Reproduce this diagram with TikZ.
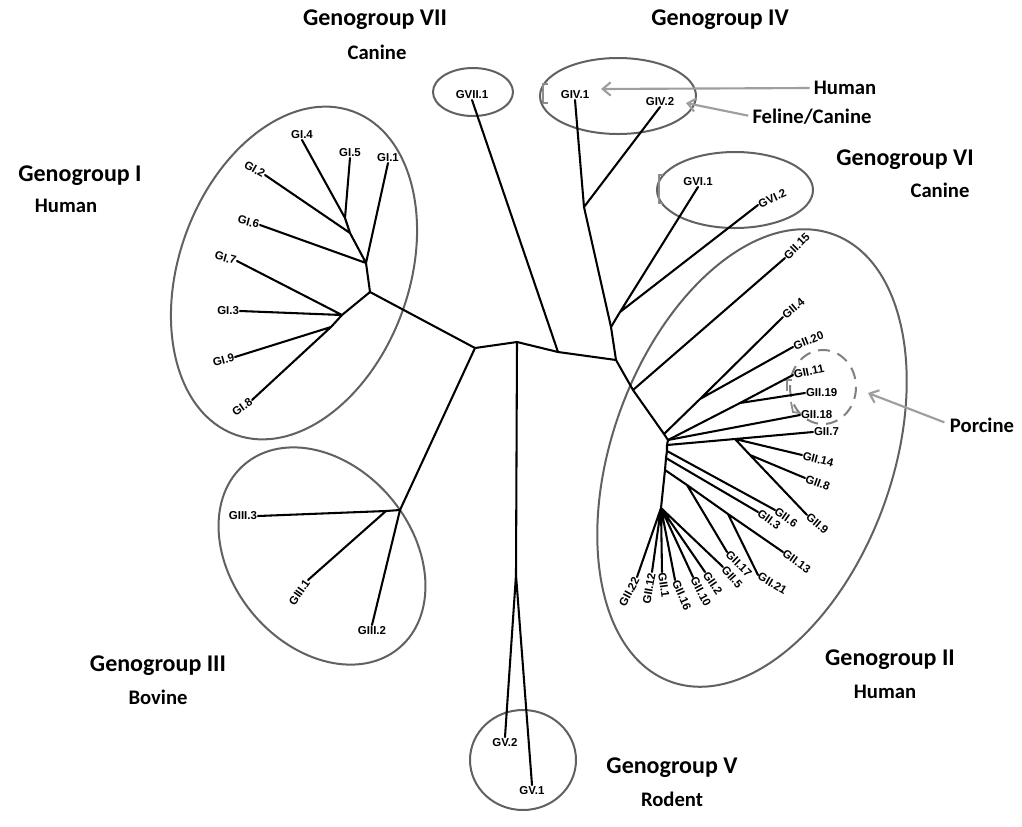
\documentclass[tikz,border=0pt]{standalone}
\usepackage{fontspec}
\setmainfont{Carlito}
\newfontfamily\leaffont{Liberation Sans}
\usetikzlibrary{arrows.meta}
\tikzset{
 branch/.style={line width=1.55pt, line cap=round, line join=round},
 clade/.style={line width=1.5pt, draw=black!62},
 leaf/.style={font=\leaffont\bfseries\fontsize{8.6}{9}\selectfont, inner sep=0.6pt},
 grp/.style={font=\bfseries\fontsize{18}{20}\selectfont, inner sep=0pt},
 host/.style={font=\bfseries\fontsize{15.5}{18}\selectfont, inner sep=0pt},
 pointer/.style={line width=1.6pt, draw=black!38, -{Straight Barb[length=6pt,width=10pt]}},
 ghost/.style={line width=1.3pt, draw=black!45},
 porcring/.style={line width=1.5pt, draw=black!50, dash pattern=on 9pt off 6pt},
}
\begin{document}
\begin{tikzpicture}[x=0.75pt,y=-0.75pt]
\useasboundingbox (0,0) rectangle (1022,826);
\fill[white] (0,0) rectangle (1022,826);

% ---------- clade ellipses ----------
\draw[clade, rotate around={-20:(294,273)}] (294,273) ellipse (115 and 172);
\draw[clade, rotate around={-20:(752,458)}] (752,458) ellipse (140 and 238);
\draw[clade, rotate around={-50:(322,556)}] (322,556) ellipse (120 and 90);
\draw[clade] (473,92) ellipse (40 and 24);
\draw[clade] (618,96) ellipse (78 and 38);
\draw[clade] (735,190) ellipse (78 and 38);
\draw[clade] (523,760) ellipse (53 and 50);
\draw[porcring] (823,387) ellipse (33 and 37);

% leftover grey brackets
\draw[ghost] (548,84) -- (543,84) -- (543,103) -- (548,103);
\draw[ghost] (663,175) -- (659,175) -- (659,203) -- (663,203);
\draw[ghost] (783,380) -- (792,380) (787,380) -- (787,391);
\draw[ghost] (791,402) -- (793,412) -- (800,413);

% ---------- internal nodes ----------
\coordinate (GIa) at (370,292);
\coordinate (B) at (475,348);
\coordinate (C) at (517,342);
\coordinate (D) at (558,352);
\coordinate (E) at (616,360);
\coordinate (F) at (611,327);
\coordinate (GIVn) at (584,207);
\coordinate (G6) at (620,312);
\coordinate (H1) at (633,390);
\coordinate (U) at (664,434);
\coordinate (H) at (668,440);
\coordinate (T0) at (667,445);
\coordinate (T1) at (667,451);
\coordinate (T2) at (666,458);
\coordinate (N0) at (665,470);
\coordinate (P) at (661,508);
\coordinate (Q) at (700,399);
\coordinate (J) at (740,403);
\coordinate (K) at (735,439);
\coordinate (K2) at (750,455);
\coordinate (M) at (687,485);
\coordinate (L) at (728,514);
\coordinate (GIu) at (366,263);
\coordinate (GIv) at (350,233);
\coordinate (GIw) at (345,218);
\coordinate (GIb) at (342,315);
\coordinate (GIc) at (331,327);
\coordinate (GIIIn) at (400,510);
\coordinate (GIIIs) at (386,511);
\coordinate (GVn) at (516,575);

% ---------- leaf tips ----------
\coordinate (tGI4) at (302,140);
\coordinate (tGI5) at (350,158);
\coordinate (tGI1) at (388,163);
\coordinate (tGI2) at (265,175);
\coordinate (tGI6) at (260,225);
\coordinate (tGI7) at (237,261);
\coordinate (tGI3) at (240,311);
\coordinate (tGI9) at (235,357);
\coordinate (tGI8) at (252,400);
\coordinate (tGIII3) at (258,516);
\coordinate (tGIII1) at (308,580);
\coordinate (tGIII2) at (372,625);
\coordinate (tGVII1) at (472,100);
\coordinate (tGIV1) at (575,100);
\coordinate (tGIV2) at (660,107);
\coordinate (tGVI1) at (698,187);
\coordinate (tGVI2) at (758,205);
\coordinate (tGV2) at (505,737);
\coordinate (tGV1) at (532,785);
\coordinate (tGII15) at (785,258);
\coordinate (tGII4) at (783,317);
\coordinate (tGII20) at (793,347);
\coordinate (tGII11) at (793,375);
\coordinate (tGII19) at (805,393);
\coordinate (tGII18) at (800,415);
\coordinate (tGII7) at (813,432);
\coordinate (tGII14) at (802,455);
\coordinate (tGII8) at (805,478);
\coordinate (tGII9) at (807,515);
\coordinate (tGII6) at (775,510);
\coordinate (tGII3) at (758,512);
\coordinate (tGII13) at (783,552);
\coordinate (tGII21) at (758,575);
\coordinate (tGII17) at (727,552);
\coordinate (tGII5) at (723,567);
\coordinate (tGII2) at (705,572);
\coordinate (tGII10) at (693,577);
\coordinate (tGII16) at (675,580);
\coordinate (tGII1) at (662,572);
\coordinate (tGII12) at (652,572);
\coordinate (tGII22) at (637,577);

% ---------- branches ----------
\draw[branch] (GIa) -- (B) -- (C) -- (D) -- (E) -- (H1) -- (U) -- (H) -- (T0) -- (T1) -- (T2) -- (N0) -- (P);
\draw[branch] (E) -- (F) -- (GIVn);
\draw[branch] (GIVn) -- (tGIV1) (GIVn) -- (tGIV2);
\draw[branch] (F) -- (G6) -- (tGVI1) (G6) -- (tGVI2);
\draw[branch] (D) -- (tGVII1);
\draw[branch] (C) -- (GVn) -- (tGV2) (GVn) -- (tGV1);
\draw[branch] (B) -- (GIIIn) -- (tGIII2) (GIIIn) -- (GIIIs) -- (tGIII3) (GIIIs) -- (tGIII1);
% GI
\draw[branch] (GIa) -- (GIu) -- (tGI1) (GIu) -- (tGI6) (GIu) -- (GIv) -- (tGI2) (GIv) -- (GIw) -- (tGI4) (GIw) -- (tGI5);
\draw[branch] (GIa) -- (GIb) -- (tGI3) (GIb) -- (tGI7) (GIb) -- (GIc) -- (tGI9) (GIc) -- (tGI8);
% GII
\draw[branch] (H1) -- (tGII15);
\draw[branch] (U) -- (Q) -- (tGII4) (Q) -- (tGII20);
\draw[branch] (H) -- (J) -- (tGII11) (J) -- (tGII19);
\draw[branch] (H) -- (tGII18);
\draw[branch] (T0) -- (K) -- (tGII7) (K) -- (tGII14) (K) -- (K2) -- (tGII9) (K2) -- (tGII8);
\draw[branch] (T1) -- (tGII6) (T2) -- (tGII3);
\draw[branch] (N0) -- (M) -- (tGII17) (M) -- (L) -- (tGII13) (L) -- (tGII21);
\draw[branch] (P) -- (tGII22) (P) -- (tGII12) (P) -- (tGII1) (P) -- (tGII16) (P) -- (tGII10) (P) -- (tGII2) (P) -- (tGII5);

% ---------- leaf labels ----------
\node[leaf, anchor=south] (lGI4) at (tGI4) {GI.4};
\node[leaf, anchor=south] (lGI5) at (tGI5) {GI.5};
\node[leaf, anchor=south] (lGI1) at (tGI1) {GI.1};
\node[leaf, anchor=east, rotate=-30] (lGI2) at (tGI2) {GI.2};
\node[leaf, anchor=east, rotate=-15] (lGI6) at (tGI6) {GI.6};
\node[leaf, anchor=east, rotate=-15] (lGI7) at (tGI7) {GI.7};
\node[leaf, anchor=east] (lGI3) at (tGI3) {GI.3};
\node[leaf, anchor=east, rotate=15] (lGI9) at (tGI9) {GI.9};
\node[leaf, anchor=east, rotate=35] (lGI8) at (tGI8) {GI.8};
\node[leaf, anchor=east] (lGIII3) at (tGIII3) {GIII.3};
\node[leaf, anchor=east, rotate=55] (lGIII1) at (tGIII1) {GIII.1};
\node[leaf, anchor=north] (lGIII2) at (tGIII2) {GIII.2};
\node[leaf, anchor=south] (lGVII1) at (tGVII1) {GVII.1};
\node[leaf, anchor=south] (lGIV1) at (tGIV1) {GIV.1};
\node[leaf, anchor=south] (lGIV2) at (tGIV2) {GIV.2};
\node[leaf, anchor=south] (lGVI1) at (tGVI1) {GVI.1};
\node[leaf, anchor=west, rotate=25] (lGVI2) at (tGVI2) {GVI.2};
\node[leaf, anchor=north] (lGV2) at (tGV2) {GV.2};
\node[leaf, anchor=north] (lGV1) at (tGV1) {GV.1};
\node[leaf, anchor=west, rotate=45] (lGII15) at (tGII15) {GII.15};
\node[leaf, anchor=west, rotate=40] (lGII4) at (tGII4) {GII.4};
\node[leaf, anchor=west, rotate=22] (lGII20) at (tGII20) {GII.20};
\node[leaf, anchor=west, rotate=12] (lGII11) at (tGII11) {GII.11};
\node[leaf, anchor=west] (lGII19) at (tGII19) {GII.19};
\node[leaf, anchor=west] (lGII18) at (tGII18) {GII.18};
\node[leaf, anchor=west] (lGII7) at (tGII7) {GII.7};
\node[leaf, anchor=west, rotate=-15] (lGII14) at (tGII14) {GII.14};
\node[leaf, anchor=west, rotate=-20] (lGII8) at (tGII8) {GII.8};
\node[leaf, anchor=west, rotate=-40] (lGII9) at (tGII9) {GII.9};
\node[leaf, anchor=west, rotate=-35] (lGII6) at (tGII6) {GII.6};
\node[leaf, anchor=west, rotate=-35] (lGII3) at (tGII3) {GII.3};
\node[leaf, anchor=west, rotate=-35] (lGII13) at (tGII13) {GII.13};
\node[leaf, anchor=west, rotate=-30] (lGII21) at (tGII21) {GII.21};
\node[leaf, anchor=west, rotate=-45] (lGII17) at (tGII17) {GII.17};
\node[leaf, anchor=west, rotate=-48] (lGII5) at (tGII5) {GII.5};
\node[leaf, anchor=west, rotate=-55] (lGII2) at (tGII2) {GII.2};
\node[leaf, anchor=west, rotate=-62] (lGII10) at (tGII10) {GII.10};
\node[leaf, anchor=west, rotate=-66] (lGII16) at (tGII16) {GII.16};
\node[leaf, anchor=west, rotate=-82] (lGII1) at (tGII1) {GII.1};
\node[leaf, anchor=east, rotate=80] (lGII12) at (tGII12) {GII.12};
\node[leaf, anchor=east, rotate=62] (lGII22) at (tGII22) {GII.22};

% ---------- group labels ----------
\node[grp] (g7) at (375,20) {Genogroup VII};
\node[host] (h7) at (377,52) {Canine};
\node[grp] (g4) at (720,20) {Genogroup IV};
\node[host] (h4a) at (845,88) {Human};
\node[host] (h4b) at (812,117) {Feline/Canine};
\node[grp] (g1) at (80,176) {Genogroup I};
\node[host] (h1) at (66,206) {Human};
\node[grp] (g6) at (905,160) {Genogroup VI};
\node[host] (h6) at (940,190) {Canine};
\node[host] (porc) at (982,425) {Porcine};
\node[grp] (g2) at (890,660) {Genogroup II};
\node[host] (h2) at (885,692) {Human};
\node[grp] (g3) at (158,666) {Genogroup III};
\node[host] (h3) at (158,697) {Bovine};
\node[grp] (g5) at (672,768) {Genogroup V};
\node[host] (h5) at (672,799) {Rodent};

% ---------- pointers ----------
\coordinate (aIV1) at (601,89);
\coordinate (aIV2) at (686,103);
\coordinate (aPorc) at (868,393);
\draw[pointer] ([xshift=-3pt]h4a.west) -- (aIV1);
\draw[pointer] ([xshift=-3pt,yshift=1pt]h4b.west) -- (aIV2);
\draw[pointer] ([xshift=-4pt,yshift=2pt]porc.west) -- (aPorc);
\end{tikzpicture}
\end{document}
